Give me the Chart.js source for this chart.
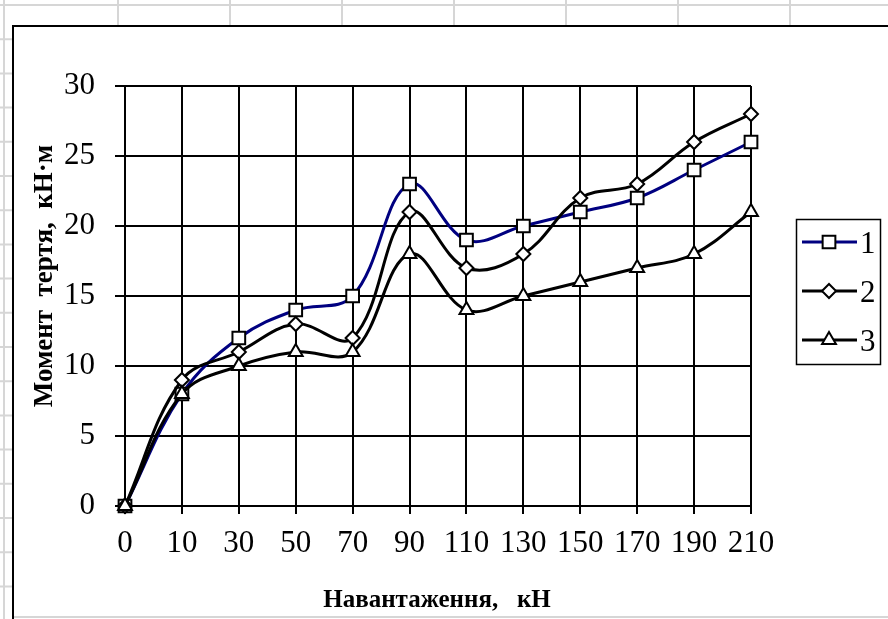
<!DOCTYPE html>
<html>
<head>
<meta charset="utf-8">
<script src="https://cdn.jsdelivr.net/npm/chart.js@4/dist/chart.umd.min.js"></script>
<style>
  html, body { margin: 0; padding: 0; background: #fff; overflow: hidden; }
  canvas { display: block; }
</style>
</head>
<body>
<canvas id="c" width="888" height="619"></canvas>
<script>
// Load categories (kN) and friction moment series (kN·m)
const loads   = ['0', '10', '30', '50', '70', '90', '110', '130', '150', '170', '190', '210'];
const series1 = [0, 8, 12, 14, 15, 23, 19, 20, 21, 22, 24, 26];
const series2 = [0, 9, 11, 13, 12, 21, 17, 18, 22, 23, 26, 28];
const series3 = [0, 8, 10, 11, 11, 18, 14, 15, 16, 17, 18, 21];
const seriesNames = ['1', '2', '3'];
const yTicks = [0, 5, 10, 15, 20, 25, 30];
const xTitle = 'Навантаження,   кН';
const yTitle = 'Момент  тертя,  кН·м';

const SERIF = "'Liberation Serif', 'Times New Roman', serif";

// Worksheet cells behind the chart object, plus the chart frame
const sheetBackground = {
  id: 'sheetBackground',
  beforeDraw(chart) {
    const ctx = chart.ctx;
    const W = chart.width, H = chart.height;
    ctx.save();
    ctx.fillStyle = '#fff';
    ctx.fillRect(0, 0, W, H);
    ctx.strokeStyle = '#d6d6d6';
    ctx.lineWidth = 2;
    const cols = [4, 118, 230, 342, 454, 566, 678, 790];
    ctx.beginPath();
    cols.forEach(x => { ctx.moveTo(x, 0); ctx.lineTo(x, H); });
    for (let y = 5; y < H; y += 34.2) { ctx.moveTo(0, y); ctx.lineTo(W, y); }
    ctx.stroke();
    // chart object: white fill with black frame
    ctx.fillStyle = '#fff';
    ctx.fillRect(13, 26, W, H);
    ctx.strokeStyle = '#d6d6d6';
    ctx.beginPath();
    ctx.moveTo(13, 617); ctx.lineTo(W, 617);
    ctx.stroke();
    ctx.strokeStyle = '#000';
    ctx.lineWidth = 2;
    ctx.beginPath();
    ctx.moveTo(13, H + 5); ctx.lineTo(13, 26); ctx.lineTo(W + 5, 26);
    ctx.stroke();
    ctx.restore();
  }
};

// Axis titles: the vertical one sits a little above the plot's middle
const axisTitles = {
  id: 'axisTitles',
  afterDraw(chart) {
    const ctx = chart.ctx;
    const area = chart.chartArea;
    ctx.save();
    ctx.fillStyle = '#000';
    ctx.textAlign = 'center';
    ctx.textBaseline = 'middle';
    ctx.font = 'bold 25px ' + SERIF;
    ctx.fillText(xTitle, (area.left + area.right) / 2 - 1, 601);
    ctx.translate(45, 276);
    ctx.rotate(-Math.PI / 2);
    ctx.font = 'bold 27px ' + SERIF;
    ctx.fillText(yTitle, 0, 0);
    ctx.restore();
  }
};

// Boxed legend on the right: line sample with marker, then series name
const boxedLegend = {
  id: 'boxedLegend',
  afterDraw(chart) {
    const ctx = chart.ctx;
    ctx.save();
    ctx.strokeStyle = '#000';
    ctx.lineWidth = 1.5;
    ctx.strokeRect(796.5, 219.5, 84, 145);
    chart.data.datasets.forEach((ds, i) => {
      const y = 242 + i * 49;
      ctx.strokeStyle = ds.borderColor;
      ctx.lineWidth = ds.borderWidth;
      ctx.beginPath();
      ctx.moveTo(802, y); ctx.lineTo(857, y);
      ctx.stroke();
      ctx.fillStyle = ds.pointBackgroundColor;
      ctx.strokeStyle = ds.pointBorderColor;
      ctx.lineWidth = ds.pointBorderWidth;
      Chart.helpers.drawPoint(ctx, {
        pointStyle: ds.pointStyle, radius: ds.pointRadius, rotation: 0, borderWidth: ds.pointBorderWidth
      }, 829, y);
      ctx.fillStyle = '#000';
      ctx.font = '31px ' + SERIF;
      ctx.textAlign = 'left';
      ctx.textBaseline = 'middle';
      ctx.fillText(ds.label, 860, y + 3);
    });
    ctx.restore();
  }
};

function seriesStyle(color, style, radius) {
  return {
    borderColor: color,
    borderWidth: 3,
    pointStyle: style,
    pointRadius: radius,
    pointHoverRadius: radius,
    pointBackgroundColor: '#fff',
    pointBorderColor: '#000',
    pointBorderWidth: 2,
    tension: 0.38,
    fill: false,
    clip: false
  };
}

new Chart(document.getElementById('c'), {
  type: 'line',
  data: {
    labels: loads,
    datasets: [
      Object.assign({ label: seriesNames[0], data: series1, order: 2 }, seriesStyle('#000080', 'rect', 9)),
      Object.assign({ label: seriesNames[1], data: series2, order: 1 }, seriesStyle('#000', 'rectRot', 7)),
      Object.assign({ label: seriesNames[2], data: series3, order: 0 }, seriesStyle('#000', 'triangle', 8))
    ]
  },
  options: {
    responsive: false,
    animation: false,
    events: [],
    layout: { padding: { left: 0, top: 86, right: 137, bottom: 0 } },
    plugins: {
      legend: { display: false },
      tooltip: { enabled: false }
    },
    scales: {
      x: {
        type: 'category',
        offset: false,
        grid: { color: '#000', lineWidth: 2, tickLength: 8, drawTicks: true },
        border: { color: '#000', width: 2 },
        ticks: {
          autoSkip: false, maxRotation: 0, minRotation: 0,
          color: '#000', padding: 11,
          font: { family: SERIF, size: 31 }
        },
        afterFit(scale) { scale.height = 113; }
      },
      y: {
        min: 0, max: 30,
        afterBuildTicks(scale) { scale.ticks = yTicks.map(v => ({ value: v })); },
        grid: { color: '#000', lineWidth: 2, tickLength: 10, drawTicks: true },
        border: { color: '#000', width: 2 },
        ticks: {
          color: '#000', padding: 20,
          font: { family: SERIF, size: 31 }
        },
        afterFit(scale) { scale.width = 125; }
      }
    }
  },
  plugins: [sheetBackground, axisTitles, boxedLegend]
});
</script>
</body>
</html>
